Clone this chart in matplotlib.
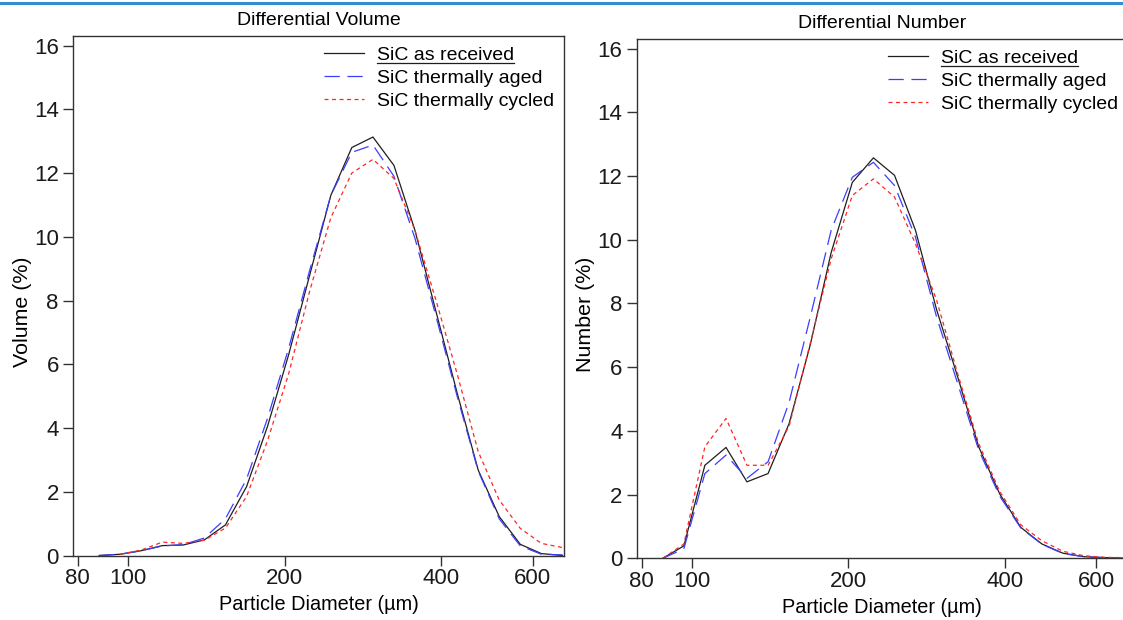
import matplotlib
matplotlib.use("Agg")
import matplotlib.pyplot as plt
from matplotlib.lines import Line2D
from matplotlib.ticker import FixedLocator, FixedFormatter, NullLocator
import numpy as np

plt.rcParams['font.family'] = ['Liberation Sans', 'DejaVu Sans']
plt.rcParams['lines.scale_dashes'] = False

# channel mid diameters (um)
diameters = [87.9, 96.5, 105.9, 116.3, 127.6, 140.1, 153.8, 168.9, 185.3, 203.5, 223.4,
             245.3, 269.2, 295.6, 324.4, 356.1, 390.9, 429.2, 471.2, 517.2, 567.8, 623.3, 684.3]

# differential volume (%)
vol_received = [0.0, 0.04, 0.15, 0.31, 0.33, 0.49, 0.96, 2.16, 4.05, 6.3, 8.8,
                11.3, 12.8, 13.13, 12.24, 10.2, 7.65, 5.1, 2.68, 1.22, 0.35, 0.06, 0.0]
vol_aged = [0.0, 0.04, 0.15, 0.3, 0.34, 0.55, 1.15, 2.4, 4.3, 6.5, 8.95,
            11.3, 12.65, 12.88, 11.9, 9.95, 7.5, 5.0, 2.65, 1.15, 0.3, 0.04, 0.02]
vol_cycled = [np.nan, 0.04, 0.17, 0.42, 0.38, 0.48, 0.86, 1.85, 3.6, 5.7, 8.3,
              10.6, 12.0, 12.43, 11.83, 10.2, 8.0, 5.7, 3.26, 1.74, 0.85, 0.38, 0.25]

# differential number (%)
num_received = [0.0, 0.39, 2.92, 3.48, 2.40, 2.66, 4.23, 6.7, 9.6, 11.8, 12.57,
                12.02, 10.29, 7.8, 5.7, 3.5, 2.02, 0.97, 0.45, 0.16, 0.05, 0.02, 0.0]
num_aged = [0.0, 0.3, 2.66, 3.24, 2.51, 3.03, 4.9, 7.57, 10.3, 11.96, 12.43,
            11.7, 10.08, 7.57, 5.49, 3.4, 1.95, 0.95, 0.44, 0.15, 0.05, 0.02, 0.0]
num_cycled = [0.0, 0.45, 3.5, 4.39, 2.92, 2.92, 4.15, 6.75, 9.4, 11.39, 11.91,
              11.34, 9.87, 8.1, 5.8, 3.6, 2.1, 1.05, 0.55, 0.22, 0.08, 0.03, 0.02]

series_labels = ['SiC as received', 'SiC thermally aged', 'SiC thermally cycled']
x_ticks = [80, 100, 200, 400, 600]
x_tick_labels = ['80', '100', '200', '400', '600']
y_ticks = [0, 2, 4, 6, 8, 10, 12, 14, 16]

W, H = 1123, 620
fig = plt.figure(figsize=(W / 100, H / 100), dpi=100)

# blue rule at the very top
fig.add_artist(Line2D([0, 1], [1 - 2.5 / H] * 2, transform=fig.transFigure,
                      color='#2f8fd0', lw=2.2))

FS = 14
spine_col = '#333333'


def draw_panel(rect, title, ylabel, received, aged, cycled):
    ax = fig.add_axes(rect)
    ax.plot(diameters, received, color='#1e1e1e', lw=0.9, label=series_labels[0])
    ax.plot(diameters, aged, color='#3d3dff', lw=0.9, ls=(0, (11, 5.5)),
            label=series_labels[1])
    ax.plot(diameters, cycled, color='#ff2626', lw=0.9, ls=(0, (2.9, 2.5)),
            label=series_labels[2])
    ax.set_xscale('log')
    ax.set_xlim(78.3, 689)
    ax.set_ylim(0, 16.3)
    ax.xaxis.set_major_locator(FixedLocator(x_ticks))
    ax.xaxis.set_major_formatter(FixedFormatter(x_tick_labels))
    ax.xaxis.set_minor_locator(NullLocator())
    ax.set_yticks(y_ticks)
    ax.tick_params(axis='both', direction='out', length=7.2, width=1.0,
                   color=spine_col, labelsize=16, labelcolor='#1a1a1a')
    ax.tick_params(axis='x', pad=2.0)
    ax.tick_params(axis='y', pad=3.0)
    for s in ax.spines.values():
        s.set_color(spine_col)
        s.set_linewidth(1.0)
    ax.set_title(title, fontsize=FS, pad=7.6)
    ax.set_xlabel('Particle Diameter (µm)', fontsize=14.3)
    ax.xaxis.set_label_coords(0.5, -40 / 519.5)
    ax.set_ylabel(ylabel, fontsize=15.4)
    ax.yaxis.set_label_coords(-0.084, 0.47)
    leg = ax.legend(loc='upper right', bbox_to_anchor=(1 - 10 / 491, 1 - 10 / 519.5),
                    frameon=False, fontsize=FS, borderpad=0, borderaxespad=0,
                    labelspacing=0.28, handlelength=2.05, handletextpad=0.65)
    return ax, leg


ax1, leg1 = draw_panel([73 / W, (H - 555.5) / H, 491 / W, 519.5 / H],
                       'Differential Volume', 'Volume (%)',
                       vol_received, vol_aged, vol_cycled)
ax2, leg2 = draw_panel([636.7 / W, (H - 558.3) / H, 491 / W, 519.3 / H],
                       'Differential Number', 'Number (%)',
                       num_received, num_aged, num_cycled)

# underline under first legend entry
fig.canvas.draw()
renderer = fig.canvas.get_renderer()
inv = fig.transFigure.inverted()
for leg in (leg1, leg2):
    bb = leg.get_texts()[0].get_window_extent(renderer)
    (x0, y0), (x1, _) = inv.transform([(bb.x0, bb.y0 + 1), (bb.x1, bb.y0 + 1)])
    fig.add_artist(Line2D([x0, x1], [y0, y0], transform=fig.transFigure,
                          color='#1e1e1e', lw=0.9))

fig.savefig('out.png', dpi=100)
